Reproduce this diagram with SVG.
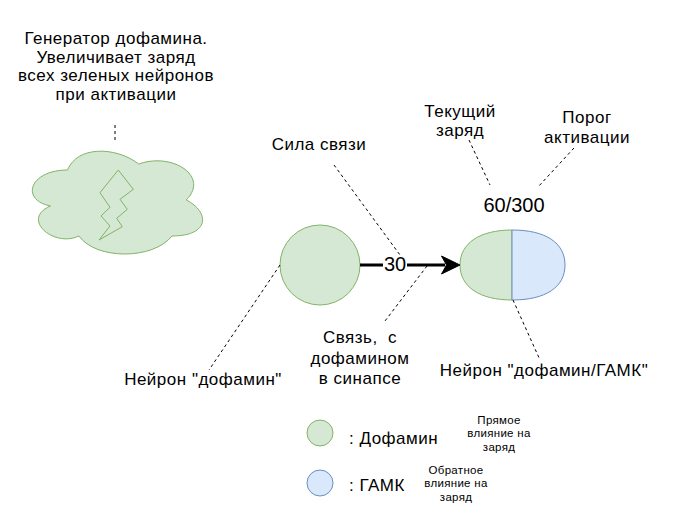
<svg xmlns="http://www.w3.org/2000/svg" width="680" height="517" viewBox="0 0 680 517">
<style>
.t{font-family:"Liberation Sans",Arial,Helvetica,sans-serif;font-size:17px;fill:#000;letter-spacing:0.5px;text-anchor:middle;white-space:pre}
.s{font-family:"Liberation Sans",Arial,Helvetica,sans-serif;font-size:11.5px;fill:#000;letter-spacing:0.3px;text-anchor:middle}
.n{font-family:"Liberation Sans",Arial,Helvetica,sans-serif;font-size:20px;fill:#000;text-anchor:middle}
.g{fill:#d5e8d4;stroke:#82b366;stroke-width:1}
.b{fill:#dae8fc;stroke:#6c8ebf;stroke-width:1}
.d{fill:none;stroke:#000;stroke-width:1;stroke-dasharray:3 3}
</style>
<rect width="680" height="517" fill="#fff"/>
<g id="generator">
<path class="g" d="M67.5,170 C29.5,170 20,200 50.4,206 C20,219.2 54.2,248 78.9,236 C96,260 153,260 172,236 C210,236 210,212 186.25,200 C210,176 172,152 138.75,164 C115,146 77,146 67.5,170 Z"/>
<path fill="none" stroke="#82b366" stroke-width="1" d="M118.3,170 L133.3,189.3 L120,199.3 L127.3,209.3 L116.7,218.3 L122.3,226.7 L99,240 L110,226 L101,216 L110,207.3 L100,192.7 Z"/>
<text class="t"><tspan x="116" y="44">Генератор дофамина.</tspan><tspan x="116" y="62.7">Увеличивает заряд</tspan><tspan x="116" y="81.3">всех зеленых нейронов</tspan><tspan x="116" y="100">при активации</tspan></text>
</g>
<g id="neuron-dopamine">
<circle class="g" cx="320" cy="265" r="40"/>
<text class="t" x="203" y="385">Нейрон "дофамин"</text>
</g>
<g id="neuron-dopamine-gaba">
<path class="g" d="M512,230 C480,230 460,243 460,265 C460,287 480,300 512,300 Z"/>
<path class="b" d="M512,230 C546,230 565,243 565,265 C565,287 546,300 512,300 Z"/>
<text class="n" x="514" y="212">60/300</text>
<text class="t" x="544" y="376">Нейрон "дофамин/ГАМК"</text>
</g>
<g id="labels">
<text class="t" x="319" y="150">Сила связи</text>
<text class="t"><tspan x="460" y="117">Текущий</tspan><tspan x="460" y="136">заряд</tspan></text>
<text class="t"><tspan x="587" y="122.7">Порог</tspan><tspan x="587" y="142.7">активации</tspan></text>
<text class="t"><tspan x="360" y="343">Связь,  с</tspan><tspan x="360" y="364">дофамином</tspan><tspan x="360" y="384">в синапсе</tspan></text>
</g>
<g id="legend">
<circle class="g" cx="320" cy="433" r="13"/>
<text class="t" x="349" y="444" style="text-anchor:start">: Дофамин</text>
<text class="s"><tspan x="499" y="424">Прямое</tspan><tspan x="499" y="437.3">влияние на</tspan><tspan x="499" y="450.5">заряд</tspan></text>
<circle class="b" cx="320" cy="483" r="13"/>
<text class="t" x="349" y="491" style="text-anchor:start">: ГАМК</text>
<text class="s"><tspan x="456" y="474">Обратное</tspan><tspan x="456" y="487.3">влияние на</tspan><tspan x="456" y="500.5">заряд</tspan></text>
</g>
<g id="connectors">
<line x1="360" y1="265" x2="445" y2="265" stroke="#000" stroke-width="3"/>
<polygon points="460,265 441.5,256 446.5,265 441.5,274" fill="#000" stroke="#000" stroke-width="1"/>
<rect x="383" y="254" width="24" height="21" fill="#fff"/>
<text class="n" x="395" y="271">30</text>
<line class="d" x1="115" y1="125" x2="115" y2="140"/>
<line class="d" x1="334" y1="165" x2="400" y2="255"/>
<line class="d" x1="427" y1="266" x2="385" y2="321"/>
<line class="d" x1="280" y1="265" x2="209" y2="370"/>
<line class="d" x1="513" y1="300" x2="540" y2="360"/>
<line class="d" x1="469" y1="140" x2="490" y2="185"/>
<line class="d" x1="574" y1="148" x2="538" y2="187"/>
</g>
</svg>
